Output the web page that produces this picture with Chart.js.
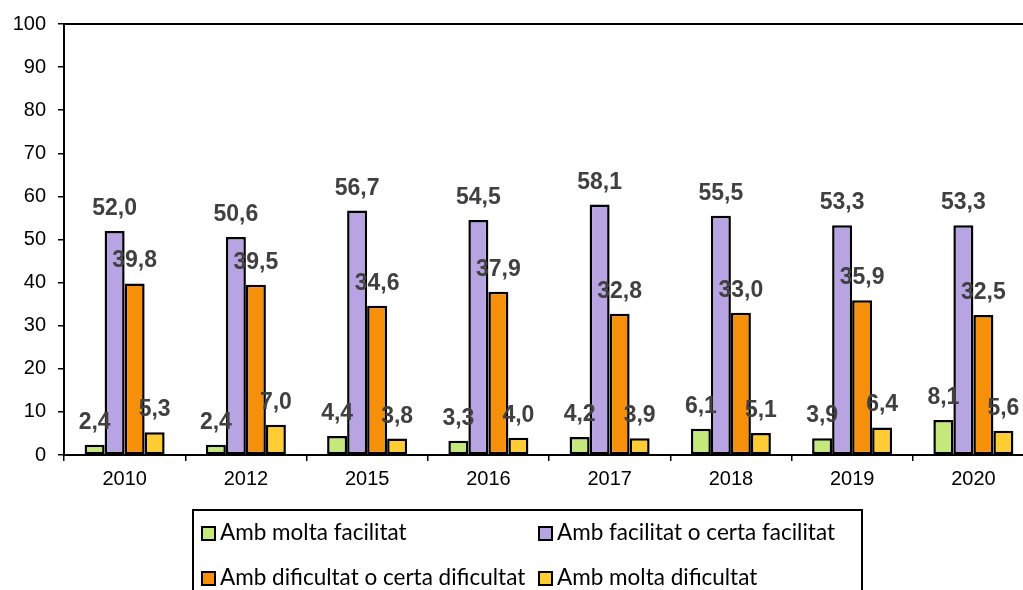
<!DOCTYPE html>
<html>
<head>
<meta charset="utf-8">
<script src="https://cdn.jsdelivr.net/npm/chart.js@4"></script>
<style>
    html, body { margin: 0; padding: 0; background: #fff; overflow: hidden; }
    #wrap { position: relative; width: 1040px; height: 590px; }
    #legend {
        position: absolute; left: 192px; top: 509px; width: 671px; height: 120px;
        border: 2px solid #000; box-sizing: border-box;
        font-family: Lato, "Open Sans", sans-serif; font-size: 22.5px; color: #000;
    }
    .item { position: absolute; white-space: nowrap; line-height: 26px; }
    .swatch {
        display: inline-block; width: 15px; height: 15px; box-sizing: border-box;
        border: 2px solid #000; vertical-align: -1px; margin-right: 4px;
    }
</style>
</head>
<body>
<div id="wrap">
    <canvas id="chart"></canvas>
    <div id="legend"></div>
</div>
<script>
// dades
const years = ['2010', '2012', '2015', '2016', '2017', '2018', '2019', '2020'];
const seriesNames = ['Amb molta facilitat', 'Amb facilitat o certa facilitat', 'Amb dificultat o certa dificultat', 'Amb molta dificultat'];
const moltaFacilitat = [2.4, 2.4, 4.4, 3.3, 4.2, 6.1, 3.9, 8.1];
const certaFacilitat = [52.0, 50.6, 56.7, 54.5, 58.1, 55.5, 53.3, 53.3];
const certaDificultat = [39.8, 39.5, 34.6, 37.9, 32.8, 33.0, 35.9, 32.5];
const moltaDificultat = [5.3, 7.0, 3.8, 4.0, 3.9, 5.1, 6.4, 5.6];
const colors = ['#c5e87d', '#b8a3e3', '#f68f0a', '#ffcc33'];

const allSeries = [moltaFacilitat, certaFacilitat, certaDificultat, moltaDificultat];

// etiquetes de valor sobre les barres
const valueLabels = {
    id: 'valueLabels',
    afterDatasetsDraw(chart) {
        const ctx = chart.ctx;
        ctx.save();
        ctx.font = 'bold 23px Arial, "Liberation Sans", sans-serif';
        ctx.fillStyle = '#404040';
        ctx.textAlign = 'center';
        ctx.textBaseline = 'alphabetic';
        chart.data.datasets.forEach((ds, i) => {
            chart.getDatasetMeta(i).data.forEach((bar, j) => {
                const txt = ds.data[j].toFixed(1).replace('.', ',');
                ctx.fillText(txt, bar.x, bar.y - 16);
            });
        });
        ctx.restore();
    }
};

// marc superior de l'àrea del gràfic
const plotFrame = {
    id: 'plotFrame',
    beforeDatasetsDraw(chart) {
        const a = chart.chartArea;
        const ctx = chart.ctx;
        ctx.save();
        ctx.strokeStyle = '#000';
        ctx.lineWidth = 2;
        ctx.beginPath();
        ctx.moveTo(a.left, a.top);
        ctx.lineTo(a.right, a.top);
        ctx.lineTo(a.right, a.bottom);
        ctx.stroke();
        ctx.restore();
    }
};

const chart = new Chart(document.getElementById('chart').getContext('2d'), {
    type: 'bar',
    data: {
        labels: years,
        datasets: allSeries.map((d, i) => ({
            label: seriesNames[i],
            data: d,
            backgroundColor: colors[i],
            borderColor: '#000',
            borderWidth: 2.5,
            borderSkipped: false,
            barPercentage: 1,
            categoryPercentage: 0.66
        }))
    },
    options: {
        responsive: true,
        maintainAspectRatio: false,
        animation: false,
        layout: { padding: { top: 22, right: 6, left: 0, bottom: 0 } },
        plugins: {
            legend: { display: false },
            tooltip: { enabled: false }
        },
        scales: {
            x: {
                grid: { display: true, drawOnChartArea: false, drawTicks: true, tickLength: 6, color: '#000', lineWidth: 1.5, offset: true },
                border: { display: true, color: '#000', width: 2 },
                ticks: { color: '#000', font: { family: 'Arial, "Liberation Sans", sans-serif', size: 20 }, padding: 6, maxRotation: 0 },
                afterFit(scale) { scale.height = 135; }
            },
            y: {
                min: 0,
                max: 100,
                ticks: { stepSize: 10, color: '#000', font: { family: 'Arial, "Liberation Sans", sans-serif', size: 20 }, padding: 12 },
                grid: { display: true, drawOnChartArea: false, drawTicks: true, tickLength: 6, color: '#000', lineWidth: 1.5 },
                border: { display: true, color: '#000', width: 2 },
                afterFit(scale) { scale.width = 64; }
            }
        }
    },
    plugins: [valueLabels, plotFrame]
});

// llegenda en caixa, com l'original
const legend = document.getElementById('legend');
chart.data.datasets.forEach((ds, i) => {
    const item = document.createElement('div');
    item.className = 'item';
    item.style.left = (7 + (i % 2) * 337) + 'px';
    item.style.top = (8 + Math.floor(i / 2) * 45) + 'px';
    item.innerHTML = '<span class="swatch" style="background:' + ds.backgroundColor + '"></span>' + ds.label;
    legend.appendChild(item);
});
</script>
</body>
</html>
